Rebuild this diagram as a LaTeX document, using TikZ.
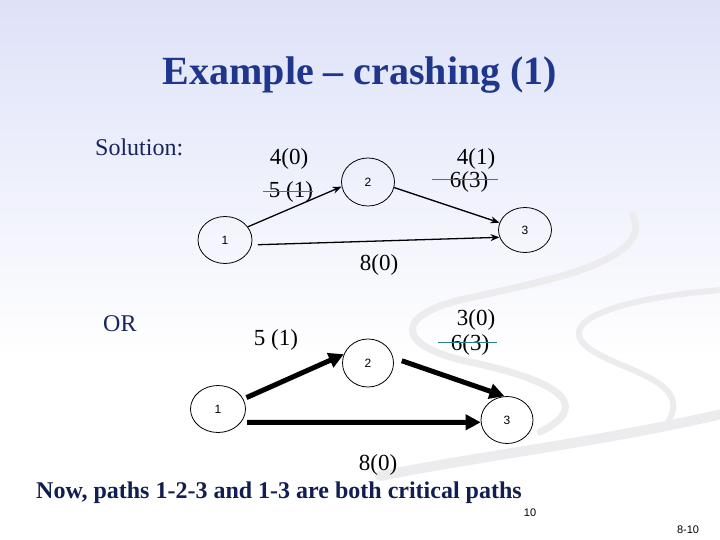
\documentclass[tikz,border=0pt]{standalone}
\usepackage{fontspec}
\setmainfont{Liberation Serif}
\newfontfamily\lsans{Liberation Sans}
\usetikzlibrary{arrows.meta,shapes.geometric}
\definecolor{bgtop}{RGB}{222,226,248}
\definecolor{titleblue}{RGB}{30,55,140}
\definecolor{navy}{RGB}{22,36,96}
\definecolor{darknavy}{RGB}{16,30,80}
\definecolor{strike}{RGB}{40,130,140}
\definecolor{swgray}{RGB}{236,236,238}
\tikzset{
  evnode/.style={ellipse,draw,line width=0.8pt,minimum width=54pt,minimum height=47pt,inner sep=0pt,font=\lsans\fontsize{12}{14}\selectfont},
  lbl/.style={font=\fontsize{23}{26}\selectfont,inner sep=0pt,anchor=base},
  thinarrow/.style={line width=1.3pt,-{Stealth[length=9pt,width=7pt]}},
  thickarrow/.style={line width=5pt,-{Triangle[length=15pt,width=15pt]}},
  strikeline/.style={strike,line width=1pt},
  swoosh/.style={swgray,line cap=round}
}
\begin{document}
\begin{tikzpicture}[x=1pt,y=-1pt]
\useasboundingbox (0,0) rectangle (720,540);
% background
\shade[top color=bgtop,bottom color=white] (0,0) rectangle (720,360);
\fill[white] (0,360) rectangle (720,540);
% swoosh decoration
\draw[swoosh,line width=7pt] (633,215) .. controls (655,262) and (540,282) .. (460,300) .. controls (395,316) and (395,346) .. (470,362) .. controls (545,378) and (600,402) .. (540,432);
\draw[swoosh,line width=6pt] (722,290) .. controls (640,296) and (555,316) .. (585,345) .. controls (612,370) and (695,378) .. (668,422);
\draw[swoosh,line width=10pt] (380,476) .. controls (480,456) and (600,442) .. (722,414);
% title
\node[font=\bfseries\fontsize{40}{44}\selectfont,text=titleblue,anchor=base,inner sep=0pt] (title) at (360,85) {Example -- crashing (1)};
\node[font=\fontsize{24}{28}\selectfont,text=navy,anchor=base west,inner sep=0pt] (sol) at (95,156) {Solution:};
\node[font=\fontsize{24}{28}\selectfont,text=navy,anchor=base west,inner sep=0pt] (or) at (103,331) {OR};
% top network
\node[evnode] (t1) at (225,240) {1};
\node[evnode,minimum width=53pt,minimum height=48pt] (t2) at (368,182) {2};
\node[evnode,minimum width=53pt,minimum height=45pt] (t3) at (525,230) {3};
\draw[thinarrow] (t1.30) -- (t2.190);
\draw[thinarrow] (t2.-12) -- (t3.164);
\draw[thinarrow] ([xshift=6pt]t1.-10) -- (t3.196);
\node[lbl] (ta) at (289,165) {4(0)};
\node[lbl] (tb) at (291,198) {5 (1)};
\node[lbl] (tc) at (476,165) {4(1)};
\node[lbl] (td) at (469,188) {6(3)};
\node[lbl] (te) at (379,270) {8(0)};
\coordinate (sb1) at (263,192); \coordinate (sb2) at (313,192);
\coordinate (sd1) at (432,180); \coordinate (sd2) at (498,180);
\draw[strikeline] (sb1) -- (sb2);
\draw[strikeline] (sd1) -- (sd2);
% bottom network
\node[evnode,minimum width=55pt] (b1) at (218,409) {1};
\node[evnode,minimum width=51pt,minimum height=48pt] (b2) at (368,363) {2};
\node[evnode,minimum width=52pt] (b3) at (507,420) {3};
\draw[thickarrow] ([xshift=4pt]b1.25) -- (b2.160);
\draw[thickarrow] ([xshift=8pt]b2.5) -- (b3.96);
\draw[thickarrow] ([xshift=6pt]b1.-30) -- (b3.185);
\node[lbl] (ba) at (276,345) {5 (1)};
\node[lbl] (bc) at (476,325) {3(0)};
\node[lbl] (bd) at (470,350) {6(3)};
\node[lbl] (be) at (378,470) {8(0)};
\coordinate (se1) at (438,342); \coordinate (se2) at (497,342);
\draw[strikeline] (se1) -- (se2);
% bottom text
\node[font=\bfseries\fontsize{24}{28}\selectfont,text=darknavy,anchor=base west,inner sep=0pt] (now) at (36,498) {Now, paths 1-2-3 and 1-3 are both critical paths};
\node[font=\lsans\fontsize{11}{13}\selectfont,inner sep=0pt] (pg) at (530,513) {10};
\node[font=\lsans\fontsize{11}{13}\selectfont,inner sep=0pt] (pg2) at (688,530) {8-10};
\end{tikzpicture}
\end{document}
